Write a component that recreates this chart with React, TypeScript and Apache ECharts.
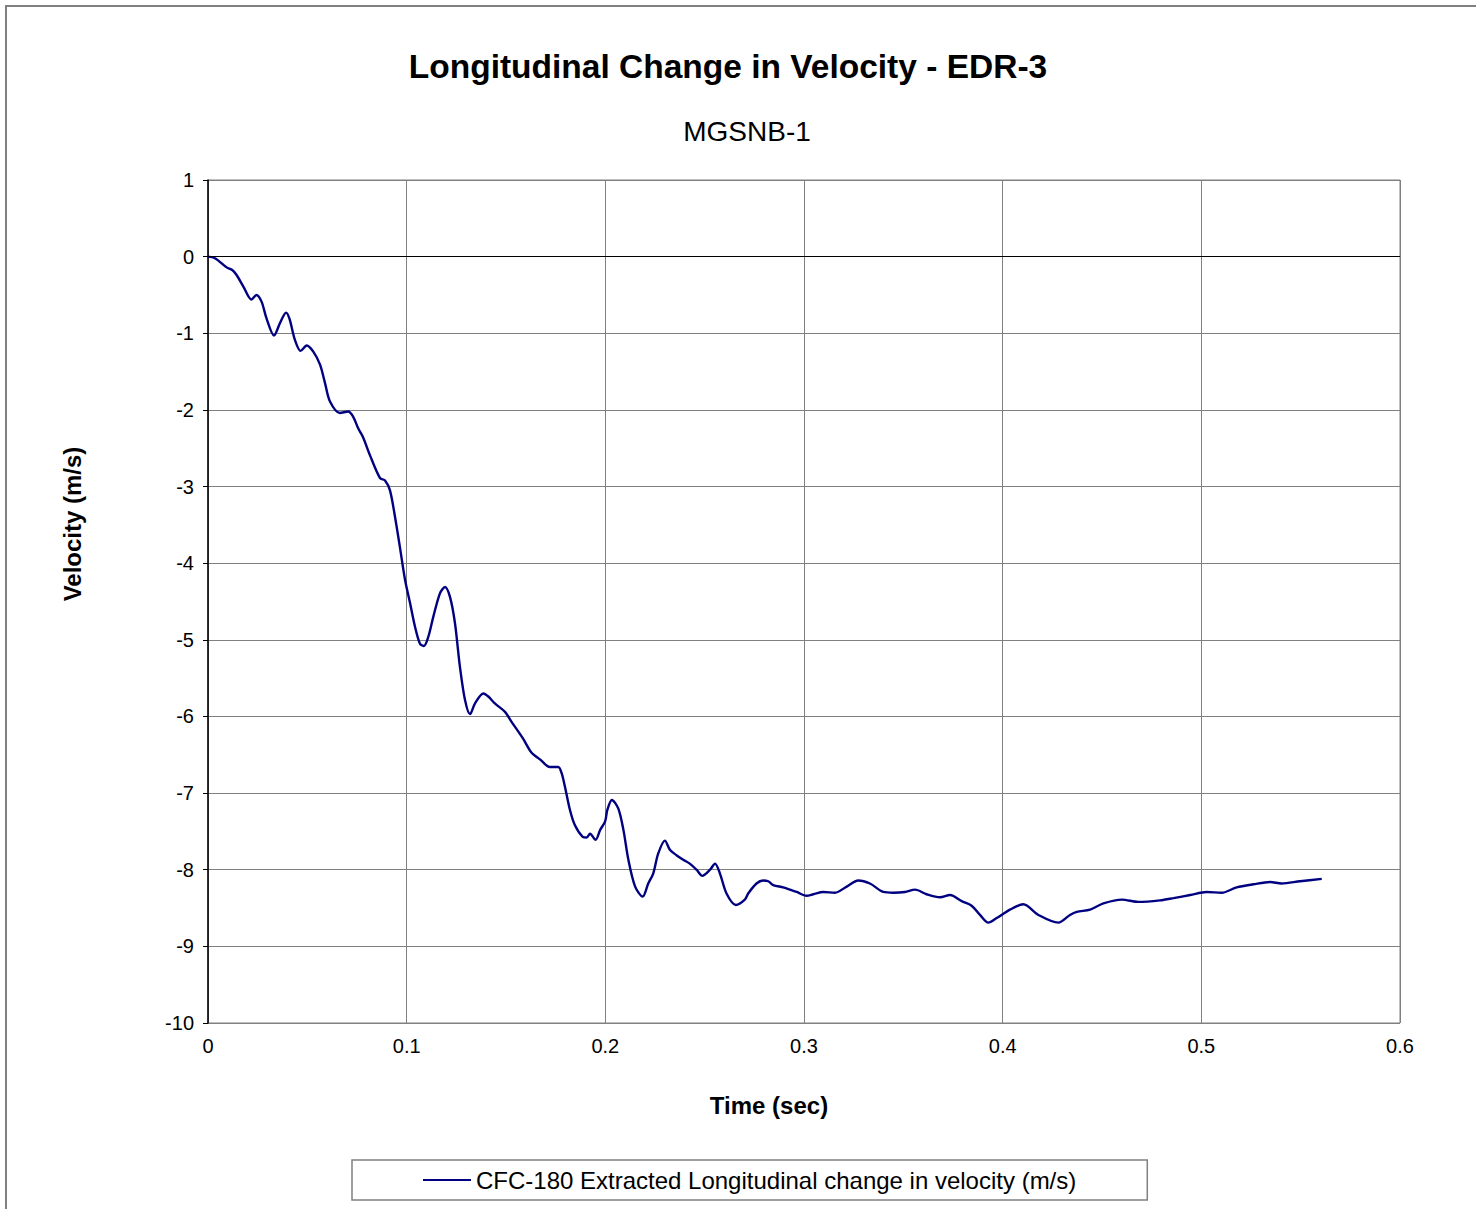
import React, { useEffect, useRef } from "react";
import * as echarts from "echarts";

// Time samples (sec) and extracted longitudinal velocity change (m/s)
const timeSec: number[] = [
  0, 0.0035, 0.0094, 0.0122, 0.0144, 0.0178, 0.0219, 0.0244, 0.027, 0.0295,
  0.0332, 0.0362, 0.0393, 0.041, 0.0438, 0.0466, 0.0497, 0.053, 0.0564, 0.0589,
  0.0614, 0.0664, 0.0706, 0.0731, 0.0756, 0.0781, 0.0815, 0.0866, 0.0891, 0.0916,
  0.0941, 0.0966, 0.0992, 0.1017, 0.1042, 0.1067, 0.1087, 0.1109, 0.1134, 0.1168,
  0.1193, 0.1218, 0.1243, 0.1268, 0.1294, 0.1319, 0.1344, 0.1386, 0.1411, 0.1444,
  0.1495, 0.1528, 0.1586, 0.1628, 0.1671, 0.1721, 0.1763, 0.178, 0.1797, 0.1822,
  0.1847, 0.1886, 0.1906, 0.1923, 0.1951, 0.1974, 0.1999, 0.201, 0.2033, 0.2065,
  0.2091, 0.2116, 0.215, 0.2188, 0.2216, 0.2241, 0.2266, 0.23, 0.2325, 0.2358,
  0.2392, 0.2425, 0.2459, 0.2488, 0.2527, 0.2552, 0.2577, 0.261, 0.2657, 0.2702,
  0.2719, 0.2761, 0.2794, 0.282, 0.2845, 0.2895, 0.2929, 0.2963, 0.3013, 0.3047,
  0.3097, 0.3156, 0.3215, 0.3273, 0.3332, 0.3399, 0.345, 0.3508, 0.3559, 0.3617,
  0.3685, 0.3735, 0.3794, 0.3844, 0.3886, 0.3928, 0.397, 0.4037, 0.4104, 0.418,
  0.428, 0.4339, 0.4373, 0.444, 0.4507, 0.46, 0.4683, 0.4792, 0.486, 0.4944,
  0.5027, 0.5103, 0.5178, 0.5262, 0.5346, 0.5404, 0.5497, 0.5606,
];

const velocity: number[] = [
  0, -0.02, -0.14, -0.175, -0.24, -0.39, -0.56, -0.5, -0.59, -0.81,
  -1.03, -0.87, -0.73, -0.81, -1.09, -1.23, -1.16, -1.24, -1.41, -1.65,
  -1.89, -2.04, -2.02, -2.09, -2.24, -2.36, -2.59, -2.89, -2.92, -3.05,
  -3.39, -3.79, -4.22, -4.52, -4.83, -5.05, -5.08, -4.96, -4.7, -4.39,
  -4.31, -4.44, -4.78, -5.35, -5.79, -5.97, -5.83, -5.7, -5.74, -5.83,
  -5.94, -6.07, -6.29, -6.47, -6.56, -6.66, -6.66, -6.74, -6.92, -7.22,
  -7.42, -7.57, -7.58, -7.53, -7.61, -7.48, -7.37, -7.22, -7.09, -7.2,
  -7.48, -7.87, -8.22, -8.35, -8.18, -8.05, -7.79, -7.62, -7.74, -7.81,
  -7.87, -7.92, -8.0, -8.08, -8.0, -7.92, -8.05, -8.31, -8.46, -8.39,
  -8.31, -8.18, -8.14, -8.15, -8.2, -8.23, -8.26, -8.29, -8.34, -8.32,
  -8.29, -8.3, -8.22, -8.14, -8.18, -8.29, -8.3, -8.29, -8.26, -8.32,
  -8.36, -8.33, -8.41, -8.47, -8.59, -8.69, -8.63, -8.52, -8.45, -8.59,
  -8.69, -8.59, -8.55, -8.52, -8.44, -8.39, -8.42, -8.4, -8.37, -8.33,
  -8.29, -8.3, -8.23, -8.19, -8.16, -8.18, -8.15, -8.12,
];

const chartTitle = "Longitudinal Change in Velocity - EDR-3";
const chartSubtitle = "MGSNB-1";
const xAxisTitle = "Time (sec)";
const yAxisTitle = "Velocity (m/s)";
const seriesName = "CFC-180 Extracted Longitudinal change in velocity (m/s)";

const FONT = "'Liberation Sans', Arial, sans-serif";

export default function App() {
  const ref = useRef<HTMLDivElement>(null);

  useEffect(() => {
    if (!ref.current) return;
    const chart = echarts.init(ref.current, null, { renderer: "svg" });
    const points = timeSec.map((t, i) => [t, velocity[i]]);

    chart.setOption({
      animation: false,
      backgroundColor: "#ffffff",
      textStyle: { fontFamily: FONT },
      grid: {
        left: 208,
        top: 180,
        width: 1192,
        height: 843,
        show: true,
        borderColor: "#808080",
        borderWidth: 1,
        backgroundColor: "transparent",
      },
      xAxis: {
        type: "value",
        min: 0,
        max: 0.6,
        interval: 0.1,
        axisLine: { show: false, onZero: false },
        axisTick: { show: false },
        axisLabel: {
          color: "#000",
          fontSize: 20,
          fontFamily: FONT,
          margin: 13,
          formatter: (v: number) => String(Math.round(v * 10) / 10),
        },
        splitLine: { show: true, lineStyle: { color: "#808080", width: 1 } },
      },
      yAxis: {
        type: "value",
        min: -10,
        max: 1,
        interval: 1,
        axisLine: { show: true, onZero: false, lineStyle: { color: "#000", width: 1.5 } },
        axisTick: { show: true, inside: false, length: 5, lineStyle: { color: "#000" } },
        axisLabel: { color: "#000", fontSize: 20, fontFamily: FONT, margin: 14 },
        splitLine: { show: true, lineStyle: { color: "#808080", width: 1 } },
      },
      legend: {
        left: 352,
        top: 1160,
        padding: [8, 71, 8, 71],
        borderColor: "#808080",
        borderWidth: 1.5,
        backgroundColor: "#fff",
        icon: "rect",
        itemWidth: 48,
        itemHeight: 2,
        textStyle: { color: "#000", fontSize: 24, fontFamily: FONT },
        data: [seriesName],
      },
      series: [
        {
          name: seriesName,
          type: "line",
          data: points,
          smooth: 0.3,
          showSymbol: false,
          symbol: "none",
          lineStyle: { color: "#000080", width: 2.4 },
          itemStyle: { color: "#000080" },
          markLine: {
            silent: true,
            symbol: "none",
            label: { show: false },
            lineStyle: { color: "#000", width: 1.2, type: "solid" },
            data: [{ yAxis: 0 }],
          },
        },
      ],
      graphic: [
        {
          type: "rect",
          shape: { x: 6, y: 6, width: 1500, height: 1300 },
          style: { fill: "none", stroke: "#808080", lineWidth: 2 },
          silent: true,
        },
        {
          type: "text",
          x: 728,
          y: 66,
          style: {
            text: chartTitle,
            fill: "#000",
            font: `bold 33.5px ${FONT}`,
            textAlign: "center",
            textVerticalAlign: "middle",
          },
        },
        {
          type: "text",
          x: 747,
          y: 131,
          style: {
            text: chartSubtitle,
            fill: "#000",
            font: `28px ${FONT}`,
            textAlign: "center",
            textVerticalAlign: "middle",
          },
        },
        {
          type: "text",
          x: 769,
          y: 1105,
          style: {
            text: xAxisTitle,
            fill: "#000",
            font: `bold 24px ${FONT}`,
            textAlign: "center",
            textVerticalAlign: "middle",
          },
        },
        {
          type: "text",
          x: 72,
          y: 524,
          rotation: Math.PI / 2,
          style: {
            text: yAxisTitle,
            fill: "#000",
            font: `bold 24px ${FONT}`,
            textAlign: "center",
            textVerticalAlign: "middle",
          },
        },
      ],
    });

    return () => chart.dispose();
  }, []);

  return (
    <div
      ref={ref}
      style={{ position: "absolute", left: 0, top: 0, width: 1476, height: 1209 }}
    />
  );
}
